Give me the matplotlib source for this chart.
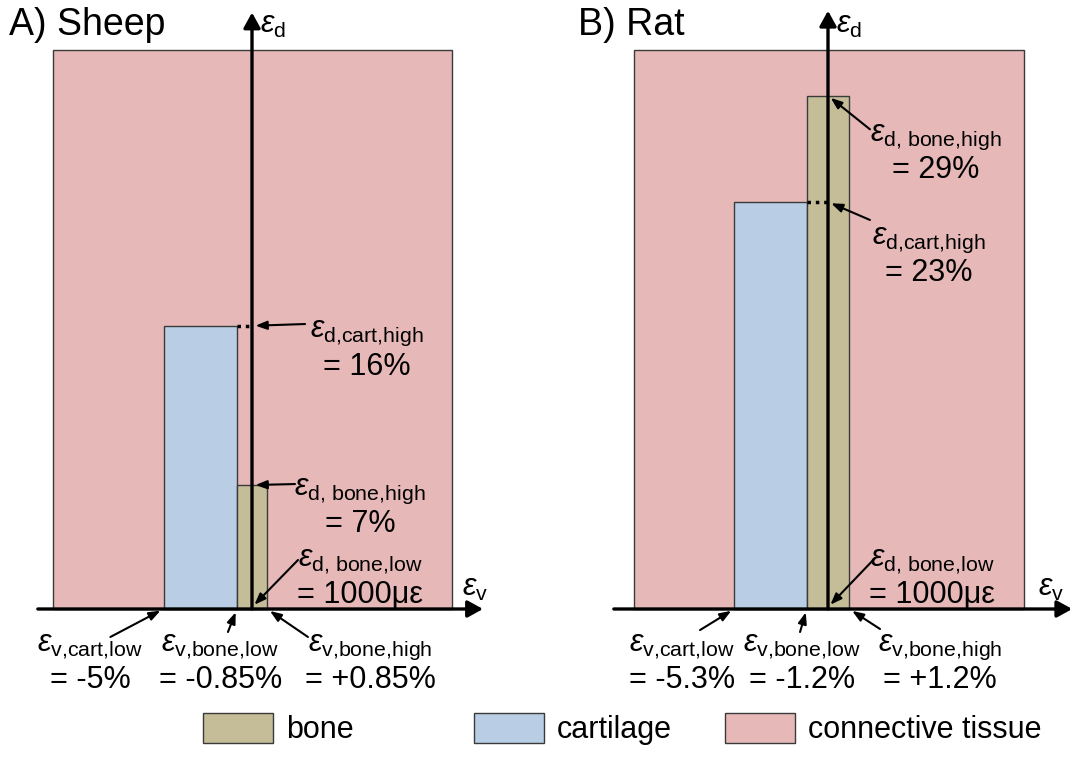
import matplotlib
matplotlib.use("Agg")
import matplotlib.pyplot as plt
from matplotlib.patches import Rectangle, Patch

plt.rcParams["font.family"] = ["Liberation Sans", "DejaVu Sans"]
plt.rcParams["mathtext.fontset"] = "custom"
plt.rcParams["mathtext.rm"] = "Liberation Sans"
plt.rcParams["mathtext.it"] = "Liberation Sans:italic"
plt.rcParams["mathtext.bf"] = "Liberation Sans:bold"

# strain thresholds in % (sheep, rat)
panels = ["A) Sheep", "B) Rat"]
v_cart_low = [-5.0, -5.3]
v_bone_low = [-0.85, -1.2]
v_bone_high = [0.85, 1.2]
d_cart_high = [16.0, 23.0]
d_bone_high = [7.0, 29.0]
d_bone_low_ue = [1000, 1000]  # microstrain
# extent of the connective tissue region as drawn
conn_left = [-11.25, -10.95]
conn_right = [11.3, 11.05]
conn_top = [31.6, 31.6]

c_bone = "#C4BD97"
c_cart = "#B9CDE5"
c_conn = "#E6B9B8"
c_edge = "#3a3a3a"

W, H = 1070, 757
s = 17.7  # px per % strain
origin_px = [(252, 609), (828, 609)]
panel_left_px = [0, 535]
title_x_px = [9, 578]

# text layout (data units): x centre, baseline line 1, baseline line 2, arrow start
layout = [
    {
        "d_cart_high": (6.5, 15.37, 13.22, (3.0, 16.1)),
        "d_bone_high": (6.1, 6.44, 4.35, (2.43, 7.06)),
        "d_bone_low": (6.1, 2.43, 0.34, (2.6, 2.77)),
        "v_cart_low": (-9.15, -2.37, -4.46, (-8.0, -1.58)),
        "v_bone_low": (-1.8, -2.37, -4.46, (-1.36, -1.3)),
        "v_bone_high": (6.67, -2.37, -4.46, (3.16, -1.58)),
        "x_arrow": (-12.1, 13.05), "y_top": 33.7,
    },
    {
        "d_cart_high": (5.7, 20.62, 18.53, (2.37, 21.98)),
        "d_bone_high": (6.1, 26.44, 24.35, (2.37, 27.1)),
        "d_bone_low": (5.88, 2.43, 0.34, (2.66, 2.88)),
        "v_cart_low": (-8.25, -2.37, -4.46, (-7.23, -1.19)),
        "v_bone_low": (-1.47, -2.37, -4.46, (-1.58, -1.3)),
        "v_bone_high": (6.33, -2.37, -4.46, (2.94, -1.13)),
        "x_arrow": (-12.1, 13.8), "y_top": 33.8,
    },
]

subs = {
    "d_cart_high": r"d{,}cart{,}high",
    "d_bone_high": r"d{,}\ bone{,}high",
    "d_bone_low": r"d{,}\ bone{,}low",
    "v_cart_low": r"v{,}cart{,}low",
    "v_bone_low": r"v{,}bone{,}low",
    "v_bone_high": r"v{,}bone{,}high",
}

fig = plt.figure(figsize=(W / 100, H / 100), dpi=100)
fs = 22

for i in range(2):
    ox, oy = origin_px[i]
    ox_local = ox - panel_left_px[i]
    ax = fig.add_axes([panel_left_px[i] / W, 0, 535 / W, 1])
    ax.set_xlim(-ox_local / s, (535 - ox_local) / s)
    ax.set_ylim(-(H - oy) / s, oy / s)
    ax.axis("off")

    # tissue regions
    ax.add_patch(Rectangle((conn_left[i], 0), conn_right[i] - conn_left[i], conn_top[i],
                           facecolor=c_conn, edgecolor=c_edge, lw=1.0, zorder=1))
    ax.add_patch(Rectangle((v_cart_low[i], 0), v_bone_low[i] - v_cart_low[i], d_cart_high[i],
                           facecolor=c_cart, edgecolor=c_edge, lw=1.0, zorder=2))
    ax.add_patch(Rectangle((v_bone_low[i], 0), v_bone_high[i] - v_bone_low[i], d_bone_high[i],
                           facecolor=c_bone, edgecolor=c_edge, lw=1.0, zorder=3))
    ax.plot([v_bone_low[i], 0], [d_cart_high[i], d_cart_high[i]], color="black",
            lw=2.5, ls=(0, (1, 1.4)), zorder=4)

    # strain axes
    lay = layout[i]
    ax.annotate("", xy=(lay["x_arrow"][1], 0), xytext=(lay["x_arrow"][0], 0),
                arrowprops=dict(arrowstyle="-|>,head_length=0.4,head_width=0.22",
                                mutation_scale=23, lw=2.4, color="black",
                                shrinkA=0, shrinkB=0), zorder=5, annotation_clip=False)
    ax.annotate("", xy=(0, lay["y_top"]), xytext=(0, 0),
                arrowprops=dict(arrowstyle="-|>,head_length=0.4,head_width=0.22",
                                mutation_scale=23, lw=2.4, color="black",
                                shrinkA=0, shrinkB=0), zorder=5, annotation_clip=False)
    ax.text(0.45, 32.55, r"$\varepsilon_{\mathrm{d}}$", fontsize=fs, ha="left", va="baseline")
    ax.text(11.86, 0.75, r"$\varepsilon_{\mathrm{v}}$", fontsize=fs, ha="left", va="baseline")

    fig.text(title_x_px[i] / W, 1 - 35 / H, panels[i], fontsize=27, ha="left", va="baseline")

    values = {
        "d_cart_high": ((0, d_cart_high[i]), f"= {d_cart_high[i]:g}%"),
        "d_bone_high": ((0, d_bone_high[i]), f"= {d_bone_high[i]:g}%"),
        "d_bone_low": ((0, d_bone_low_ue[i] / 1e4), f"= {d_bone_low_ue[i]}με"),
        "v_cart_low": ((v_cart_low[i], 0), f"= {v_cart_low[i]:g}%"),
        "v_bone_low": ((v_bone_low[i], 0), f"= {v_bone_low[i]:g}%"),
        "v_bone_high": ((v_bone_high[i], 0), f"= {v_bone_high[i]:+g}%"),
    }
    for key, (target, val_text) in values.items():
        xc, y1, y2, start = lay[key]
        ax.text(xc, y1, r"$\varepsilon_{\mathrm{" + subs[key] + "}}$", fontsize=fs,
                ha="center", va="baseline", zorder=6)
        ax.text(xc, y2, val_text, fontsize=fs, ha="center", va="baseline", zorder=6)
        ax.annotate("", xy=target, xytext=start,
                    arrowprops=dict(arrowstyle="-|>,head_length=0.45,head_width=0.17",
                                    mutation_scale=15, lw=1.5, color="black",
                                    shrinkA=0, shrinkB=2.5), zorder=6)

# legend, one entry per tissue
legend_items = [("bone", c_bone, 203), ("cartilage", c_cart, 474), ("connective tissue", c_conn, 725)]
for name, color, left in legend_items:
    fig.legend(handles=[Patch(facecolor=color, edgecolor=c_edge, lw=1.0, label=name)],
               loc="center left", bbox_to_anchor=(left / W, 1 - 729 / H), frameon=False,
               fontsize=fs, handlelength=2.3, handleheight=1.15, handletextpad=0.42,
               borderpad=0, borderaxespad=0)

fig.savefig("out.png", dpi=100)
